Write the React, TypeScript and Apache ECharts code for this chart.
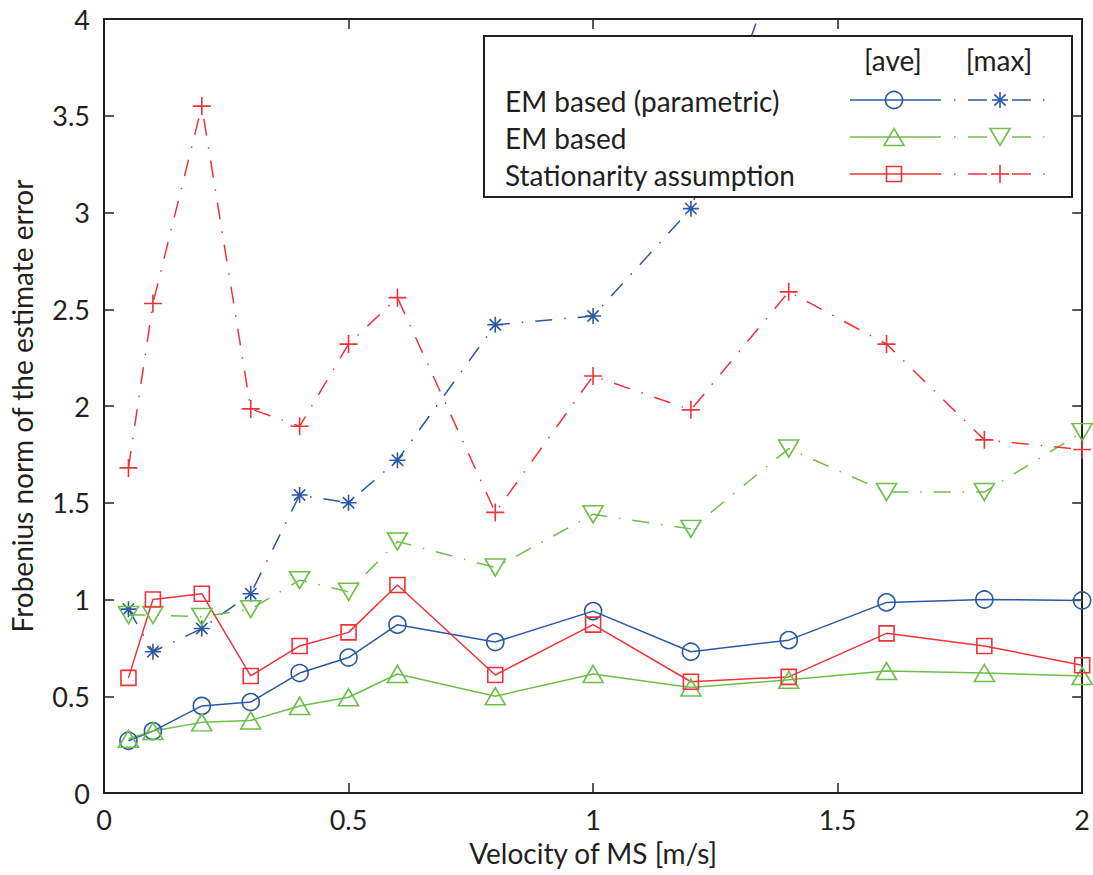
import React, { useEffect, useRef } from "react";
import * as echarts from "echarts";

// Velocity of the mobile station [m/s]
const velocity = [0.05, 0.1, 0.2, 0.3, 0.4, 0.5, 0.6, 0.8, 1.0, 1.2, 1.4, 1.6, 1.8, 2.0];

// EM based (parametric)
const emParamAve = [0.27, 0.32, 0.45, 0.47, 0.62, 0.7, 0.87, 0.78, 0.94, 0.73, 0.79, 0.985, 1.0, 0.995];
const emParamMax = [0.95, 0.73, 0.85, 1.03, 1.54, 1.5, 1.72, 2.42, 2.465, 3.02, 4.46, null, null, null];

// EM based
const emAve = [0.28, 0.32, 0.365, 0.375, 0.45, 0.495, 0.615, 0.5, 0.615, 0.545, 0.585, 0.63, 0.62, 0.605];
const emMax = [0.92, 0.92, 0.91, 0.95, 1.1, 1.04, 1.3, 1.165, 1.44, 1.365, 1.78, 1.555, 1.555, 1.865];

// Stationarity assumption
const statAve = [0.595, 1.0, 1.03, 0.605, 0.76, 0.83, 1.075, 0.61, 0.87, 0.575, 0.6, 0.825, 0.76, 0.66];
const statMax = [1.68, 2.53, 3.55, 1.985, 1.895, 2.32, 2.56, 1.45, 2.155, 1.98, 2.59, 2.32, 1.825, 1.775];

const legendRows = ["EM based (parametric)", "EM based", "Stationarity assumption"];
const legendHeads = ["[ave]", "[max]"];

const BLUE = "#2a58a8";
const GREEN = "#6cbf48";
const RED = "#ee3338";
const INK = "#231f20";
const FONT = "Lato";
const TEXT_SIZE = 28;
const TICK_SIZE = 27;

const ASTERISK =
  "path://M0,-10L0,10M-10,0L10,0M-7.07,-7.07L7.07,7.07M-7.07,7.07L7.07,-7.07";
const PLUS = "path://M0,-10L0,10M-10,0L10,0";
const DASH_DOT = [17, 12, 1.5, 12];

const pairs = (ys: (number | null)[]) => velocity.map((x, i) => [x, ys[i]]);

function lineSeries(
  name: string,
  ys: (number | null)[],
  color: string,
  symbol: string,
  size: number | number[],
  dashed: boolean,
  rotate = 0
) {
  const stroked = symbol.startsWith("path://");
  return {
    name,
    type: "line",
    data: pairs(ys),
    symbol,
    symbolSize: size,
    symbolRotate: rotate,
    showAllSymbol: true,
    clip: true,
    lineStyle: { color, width: 1.5, type: dashed ? DASH_DOT : "solid" },
    itemStyle: {
      color: stroked ? color : "rgba(0,0,0,0)",
      borderColor: color,
      borderWidth: 1.6,
    },
    emphasis: { disabled: true },
  };
}

function legendGraphic() {
  const els: any[] = [];
  const box = { x: 484, y: 36, w: 588, h: 161 };
  els.push({
    type: "rect",
    shape: { x: box.x, y: box.y, width: box.w, height: box.h },
    style: { fill: "#fff", stroke: INK, lineWidth: 2 },
    z: 100,
  });
  const headX = [893, 999];
  legendHeads.forEach((t, i) =>
    els.push({
      type: "text",
      x: headX[i],
      y: 60,
      style: { text: t, fontSize: TEXT_SIZE, fontFamily: FONT, fill: INK, align: "center", verticalAlign: "middle" },
      z: 101,
    })
  );
  const rowY = [100, 137, 174];
  const colors = [BLUE, GREEN, RED];
  legendRows.forEach((t, i) =>
    els.push({
      type: "text",
      x: 505,
      y: rowY[i] + 1,
      style: { text: t, fontSize: TEXT_SIZE, fontFamily: FONT, fill: INK, align: "left", verticalAlign: "middle" },
      z: 101,
    })
  );
  const seg = (x1: number, x2: number, y: number, c: string) => ({
    type: "line",
    shape: { x1, y1: y, x2, y2: y },
    style: { stroke: c, lineWidth: 1.5 },
    z: 101,
  });
  rowY.forEach((y, i) => {
    const c = colors[i];
    // average: solid sample
    els.push(seg(850, 941, y, c));
    // maximum: dash-dot sample
    els.push(seg(954, 955.5, y, c));
    els.push(seg(968, 987, y, c));
    els.push(seg(1012, 1031, y, c));
    els.push(seg(1043, 1044.5, y, c));
  });
  const mk = { fill: "none", lineWidth: 1.6 };
  // markers, average column
  els.push({ type: "circle", shape: { cx: 894, cy: rowY[0], r: 8.5 }, style: { ...mk, stroke: BLUE }, z: 102 });
  els.push({
    type: "polygon",
    shape: { points: [[884, rowY[1] + 8.5], [904, rowY[1] + 8.5], [894, rowY[1] - 8.5]] },
    style: { ...mk, stroke: GREEN },
    z: 102,
  });
  els.push({
    type: "rect",
    shape: { x: 886.5, y: rowY[2] - 7.5, width: 15, height: 15 },
    style: { ...mk, stroke: RED },
    z: 102,
  });
  // markers, maximum column
  const cx = 1000;
  const r = 8;
  const d = r * 0.707;
  [
    [0, -r, 0, r],
    [-r, 0, r, 0],
    [-d, -d, d, d],
    [-d, d, d, -d],
  ].forEach(([a, b, c2, e]) =>
    els.push({
      type: "line",
      shape: { x1: cx + a, y1: rowY[0] + b, x2: cx + c2, y2: rowY[0] + e },
      style: { stroke: BLUE, lineWidth: 1.6 },
      z: 102,
    })
  );
  els.push({
    type: "polygon",
    shape: { points: [[990, rowY[1] - 8.5], [1010, rowY[1] - 8.5], [1000, rowY[1] + 8.5]] },
    style: { ...mk, stroke: GREEN },
    z: 102,
  });
  [
    [0, -9, 0, 9],
    [-9, 0, 9, 0],
  ].forEach(([a, b, c2, e]) =>
    els.push({
      type: "line",
      shape: { x1: cx + a, y1: rowY[2] + b, x2: cx + c2, y2: rowY[2] + e },
      style: { stroke: RED, lineWidth: 1.6 },
      z: 102,
    })
  );
  return els;
}

export default function App() {
  const ref = useRef<HTMLDivElement>(null);
  useEffect(() => {
    if (!ref.current) return;
    const chart = echarts.init(ref.current, undefined, { renderer: "svg" });
    const axisLine = { show: true, onZero: false, lineStyle: { color: INK, width: 2 } };
    const axisTick = { show: true, inside: true, length: 10, lineStyle: { color: INK, width: 1.5 } };
    const label = { color: INK, fontSize: TICK_SIZE, fontFamily: FONT };
    chart.setOption({
      animation: false,
      backgroundColor: "#fff",
      grid: { left: 104, top: 19, width: 982, height: 774, containLabel: false },
      xAxis: [
        {
          type: "value",
          min: 0,
          max: 2,
          interval: 0.5,
          position: "bottom",
          axisLine,
          axisTick,
          splitLine: { show: false },
          axisLabel: { ...label, margin: 13 },
          name: "Velocity of MS [m/s]",
          nameLocation: "middle",
          nameGap: 46,
          nameTextStyle: { color: INK, fontSize: TEXT_SIZE, fontFamily: FONT },
        },
        {
          type: "value",
          min: 0,
          max: 2,
          interval: 0.5,
          position: "top",
          axisLine,
          axisTick,
          splitLine: { show: false },
          axisLabel: { show: false },
        },
      ],
      yAxis: [
        {
          type: "value",
          min: 0,
          max: 4,
          interval: 0.5,
          position: "left",
          axisLine,
          axisTick,
          splitLine: { show: false },
          axisLabel: { ...label, margin: 14 },
          name: "Frobenius norm of the estimate error",
          nameLocation: "middle",
          nameGap: 68,
          nameRotate: 90,
          nameTextStyle: { color: INK, fontSize: TEXT_SIZE, fontFamily: FONT },
        },
        {
          type: "value",
          min: 0,
          max: 4,
          interval: 0.5,
          position: "right",
          axisLine,
          axisTick,
          splitLine: { show: false },
          axisLabel: { show: false },
        },
      ],
      series: [
        lineSeries("EM based (parametric) [ave]", emParamAve, BLUE, "circle", 17, false),
        lineSeries("EM based (parametric) [max]", emParamMax, BLUE, ASTERISK, 16, true),
        lineSeries("EM based [ave]", emAve, GREEN, "triangle", [20, 17], false),
        lineSeries("EM based [max]", emMax, GREEN, "triangle", [20, 17], true, 180),
        lineSeries("Stationarity assumption [ave]", statAve, RED, "rect", 15, false),
        lineSeries("Stationarity assumption [max]", statMax, RED, PLUS, 18, true),
      ],
      graphic: legendGraphic(),
    });
    return () => chart.dispose();
  }, []);
  return (
    <div
      ref={ref}
      style={{ position: "absolute", left: 0, top: 0, width: 1093, height: 875, background: "#fff" }}
    />
  );
}
